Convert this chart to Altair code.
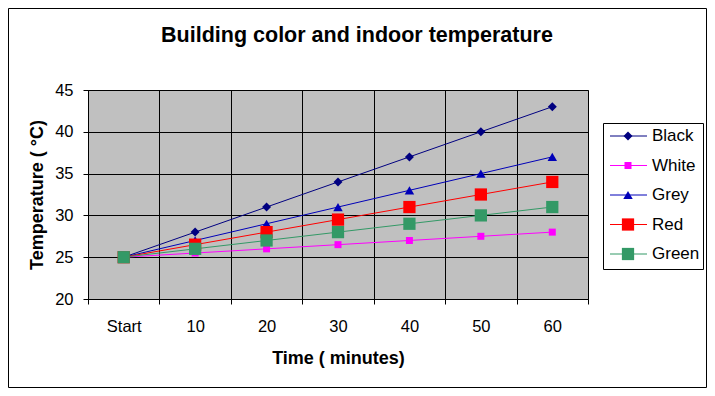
import altair as alt
import pandas as pd

# ---- data ----
times = ["Start", "10", "20", "30", "40", "50", "60"]
series = ["Black", "White", "Grey", "Red", "Green"]
black = [25, 28, 31, 34, 37, 40, 43]
white = [25, 25.5, 26, 26.5, 27, 27.5, 28]
grey = [25, 27, 29, 31, 33, 35, 37]
red = [25, 26.5, 28, 29.5, 31, 32.5, 34]
green = [25, 26, 27, 28, 29, 30, 31]
y_ticks = [20, 25, 30, 35, 40, 45]

# ---- styles ----
colors = ["#000080", "#FF00FF", "#0000B8", "#FF0000", "#339966"]
shapes = ["diamond", "square", "triangle-up", "square", "square"]
sizes = [81, 49, 90, 150, 150]
FONT = "Liberation Sans"

rows = []
for s, vals in zip(series, [black, white, grey, red, green]):
    for t, v in zip(times, vals):
        rows.append({"time": t, "series": s, "temp": v})
df = pd.DataFrame(rows)
legend_df = pd.DataFrame({"series": series})
one = pd.DataFrame({"k": [0]})

x_enc = alt.X(
    "time:N",
    sort=times,
    scale=alt.Scale(type="band", domain=times, paddingInner=0, paddingOuter=0),
    axis=alt.Axis(
        title="Time ( minutes)",
        labelAngle=0,
        tickBand="extent",
        grid=True,
        gridColor="black",
        gridWidth=1,
        domainColor="black",
        tickColor="black",
        tickSize=5,
        labelFont=FONT,
        labelFontSize=16.5,
        labelColor="black",
        labelBaseline="alphabetic",
        labelPadding=27,
        titleFont=FONT,
        titleFontSize=18,
        titleFontWeight="bold",
        titleColor="black",
        titleBaseline="alphabetic",
        titleAlign="center",
        titleX=250,
        titleY=64,
    ),
)
y_enc = alt.Y(
    "temp:Q",
    scale=alt.Scale(domain=[20, 45], nice=False, zero=False),
    axis=alt.Axis(
        title="Temperature ( °C)",
        values=y_ticks,
        grid=True,
        gridColor="black",
        gridWidth=1,
        domainColor="black",
        tickColor="black",
        tickSize=5,
        labelFont=FONT,
        labelFontSize=16.5,
        labelColor="black",
        labelAlign="right",
        labelBaseline="middle",
        labelPadding=10,
        titleFont=FONT,
        titleFontSize=18,
        titleFontWeight="bold",
        titleColor="black",
        titleAngle=270,
        titleAlign="center",
        titleBaseline="alphabetic",
        titleX=-46,
        titleY=104.5,
    ),
)
color_enc = alt.Color("series:N", scale=alt.Scale(domain=series, range=colors), legend=None)

lines = alt.Chart(df).mark_line(strokeWidth=1).encode(
    x=x_enc, y=y_enc, color=color_enc, detail="series:N"
)
points = [
    alt.Chart(df)
    .transform_filter(alt.datum.series == s)
    .mark_point(filled=True, shape=sh, size=sz, color=c, opacity=1, strokeWidth=0)
    .encode(x=x_enc, y=y_enc)
    for s, sh, sz, c in zip(series, shapes, sizes, colors)
]
main = alt.layer(lines, *points)

# ---- legend (own y scale) ----
ly = alt.Y("series:N", scale=alt.Scale(type="point", domain=series, range=[46, 164], padding=0), axis=None)
box = alt.Chart(one).mark_rect(fill="white", stroke="black", strokeWidth=1).encode(
    x=alt.value(515.5), x2=alt.value(615.5), y=alt.value(33.5), y2=alt.value(179.5)
)
leg_rules = alt.Chart(legend_df).mark_rule(strokeWidth=1).encode(
    x=alt.value(522), x2=alt.value(559), y=ly, color=color_enc
)
leg_points = [
    alt.Chart(legend_df)
    .transform_filter(alt.datum.series == s)
    .mark_point(filled=True, shape=sh, size=sz, color=c, opacity=1, strokeWidth=0)
    .encode(x=alt.value(540), y=ly)
    for s, sh, sz, c in zip(series, shapes, sizes, colors)
]
leg_text = alt.Chart(legend_df).mark_text(
    align="left", baseline="middle", font=FONT, fontSize=17, color="black"
).encode(x=alt.value(564), y=ly, text="series:N")
legend = alt.layer(box, leg_rules, *leg_points, leg_text)

border = alt.Chart(one).mark_rect(fillOpacity=0, stroke="black", strokeWidth=1).encode(
    x=alt.value(-79.5), x2=alt.value(618.5), y=alt.value(-81.5), y2=alt.value(297.5)
)

chart = (
    alt.layer(border, main, legend)
    .resolve_scale(y="independent")
    .properties(
        width=500,
        height=209,
        autosize=alt.AutoSizeParams(type="none"),
        padding={"left": 80, "top": 82, "right": 119, "bottom": 89},
        title=alt.Title(
            "Building color and indoor temperature",
            font=FONT,
            fontSize=21.5,
            fontWeight="bold",
            color="black",
            anchor="middle",
            baseline="alphabetic",
            dx=19,
            offset=-55,
        ),
    )
    .configure(background="white")
    .configure_view(fill="#C0C0C0", stroke="#808080", strokeWidth=1)
)

chart.save("out.html", embed_options={"renderer": "svg", "actions": False})
